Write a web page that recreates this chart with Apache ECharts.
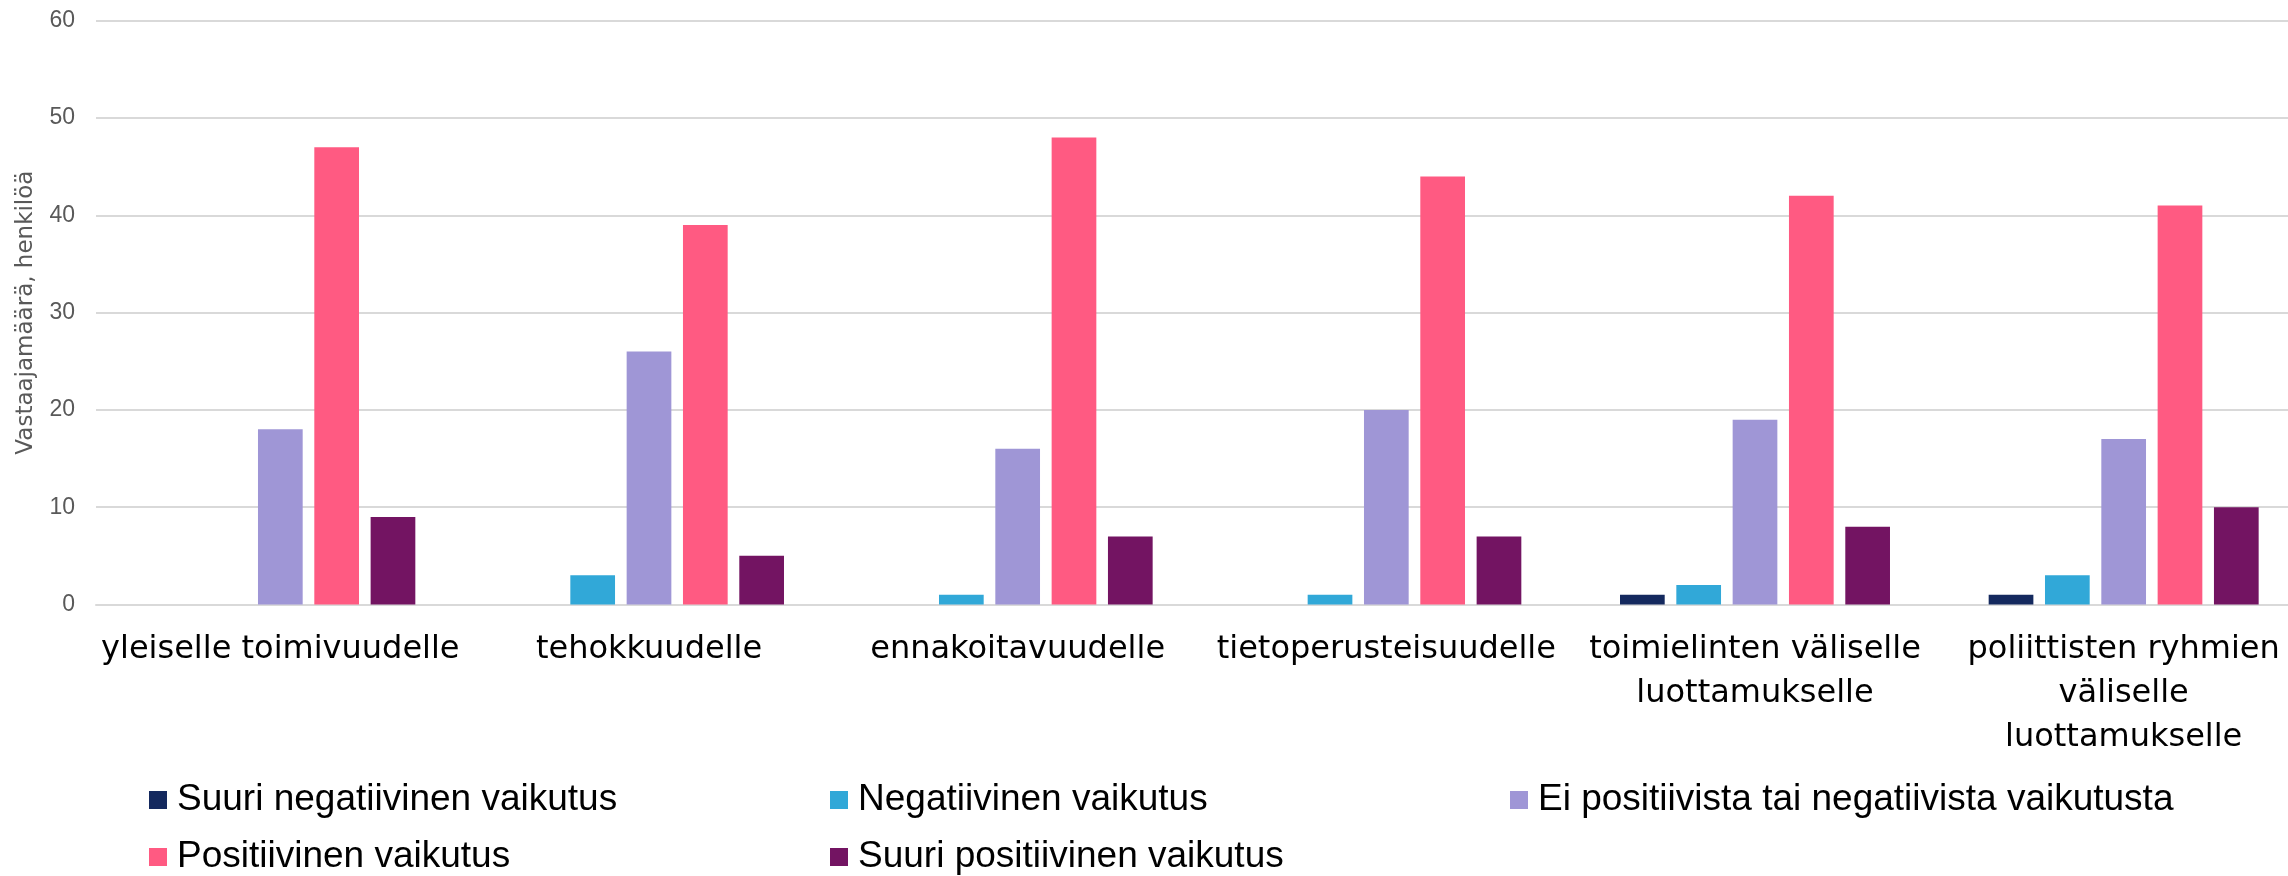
<!DOCTYPE html>
<html>
<head>
<meta charset="utf-8">
<script src="https://cdn.jsdelivr.net/npm/echarts@6/dist/echarts.min.js"></script>
<style>
html,body{margin:0;padding:0;background:#fff;}
#chart{width:2288px;height:876px;}
</style>
</head>
<body>
<div id="chart"></div>
<script>
const categories = [
  'yleiselle toimivuudelle',
  'tehokkuudelle',
  'ennakoitavuudelle',
  'tietoperusteisuudelle',
  'toimielinten väliselle\nluottamukselle',
  'poliittisten ryhmien\nväliselle\nluottamukselle'
];
const seriesNames = [
  'Suuri negatiivinen vaikutus',
  'Negatiivinen vaikutus',
  'Ei positiivista tai negatiivista vaikutusta',
  'Positiivinen vaikutus',
  'Suuri positiivinen vaikutus'
];
const suuriNegatiivinen = [0, 0, 0, 0, 1, 1];
const negatiivinen = [0, 3, 1, 1, 2, 3];
const eiVaikutusta = [18, 26, 16, 20, 19, 17];
const positiivinen = [47, 39, 48, 44, 42, 41];
const suuriPositiivinen = [9, 5, 7, 7, 8, 10];
const yTicks = { min: 0, max: 60, interval: 10 };
const yAxisName = 'Vastaajamäärä, henkilöä';

const colors = ['#14295e', '#31a8d8', '#9f96d6', '#ff5a82', '#731462'];
const values = [suuriNegatiivinen, negatiivinen, eiVaikutusta, positiivinen, suuriPositiivinen];

const legendPos = [
  { left: 149, top: 780 },
  { left: 830, top: 780 },
  { left: 1510, top: 780 },
  { left: 149, top: 837 },
  { left: 830, top: 837 }
];

const chart = echarts.init(document.getElementById('chart'), null, { renderer: 'canvas' });
chart.setOption({
  animation: false,
  backgroundColor: '#ffffff',
  color: colors,
  grid: {
    left: 96, width: 2212, top: 20.7, height: 583.8,
    containLabel: false, outerBoundsMode: 'none'
  },
  legend: seriesNames.map((n, i) => ({
    data: [n],
    left: legendPos[i].left,
    top: legendPos[i].top,
    padding: 0,
    icon: 'rect',
    itemWidth: 18,
    itemHeight: 18,
    selectedMode: false,
    textStyle: {
      fontFamily: 'Liberation Sans, Arial, sans-serif',
      fontSize: 37,
      color: '#000000',
      lineHeight: 40,
      padding: [0, 0, 0, 5]
    }
  })),
  xAxis: {
    type: 'category',
    data: categories,
    axisLine: { show: true, lineStyle: { color: '#d9d9d9', width: 2 } },
    axisTick: { show: false },
    axisLabel: {
      interval: 0,
      hideOverlap: false,
      margin: 23,
      color: '#000000',
      fontFamily: 'DejaVu Sans, sans-serif',
      fontSize: 32,
      lineHeight: 44,
      align: 'center'
    },
    splitLine: { show: false }
  },
  yAxis: {
    type: 'value',
    min: yTicks.min,
    max: yTicks.max,
    interval: yTicks.interval,
    name: yAxisName,
    nameLocation: 'middle',
    nameRotate: 90,
    nameGap: 58,
    nameTextStyle: {
      fontFamily: 'DejaVu Sans, sans-serif',
      fontSize: 23,
      color: '#595959'
    },
    axisLine: { show: false },
    axisTick: { show: false },
    axisLabel: {
      margin: 21,
      color: '#595959',
      fontFamily: 'Liberation Sans, Arial, sans-serif',
      fontSize: 23
    },
    splitLine: { show: true, lineStyle: { color: '#d9d9d9', width: 2 } }
  },
  series: seriesNames.map((n, i) => ({
    name: n,
    type: 'bar',
    data: values[i],
    barWidth: 44.7,
    barGap: '26%',
    itemStyle: {
      color: colors[i],
      borderWidth: 0
    }
  }))
});
</script>
</body>
</html>
